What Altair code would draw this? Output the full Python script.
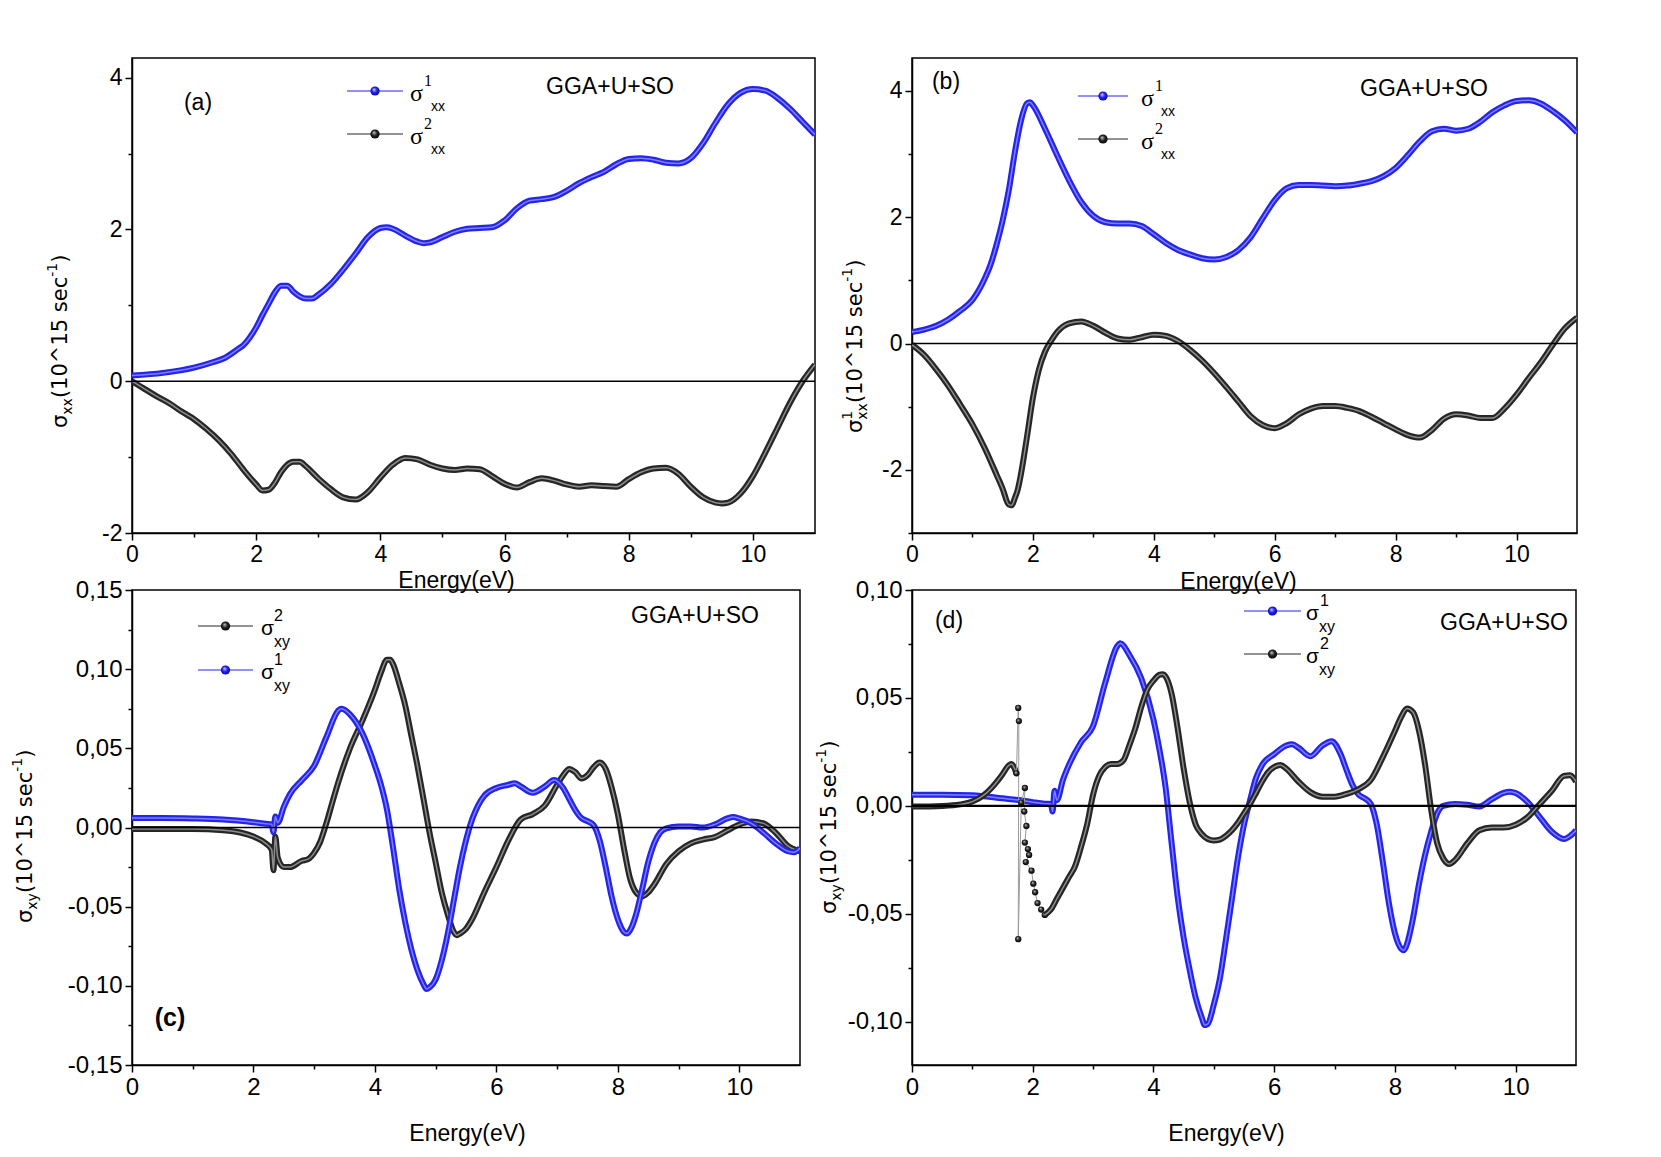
import altair as alt
import pandas as pd

# ---------------- panel (a): sigma_xx, GGA+U+SO ----------------
a_E1 = [0, 0.5, 1.0, 1.3, 1.5, 1.7, 1.8, 1.9, 2.0, 2.1, 2.2, 2.3, 2.4, 2.5, 2.6, 2.7, 2.8, 2.9, 3.0, 3.2,
        3.4, 3.6, 3.8, 4.0, 4.1, 4.2, 4.4, 4.6, 4.7, 4.8, 5.0, 5.2, 5.4, 5.6, 5.8, 6.0, 6.2, 6.4, 6.6, 6.8,
        7.0, 7.2, 7.4, 7.6, 7.8, 8.0, 8.2, 8.4, 8.6, 8.8, 9.0, 9.2, 9.4, 9.6, 9.8, 10.0, 10.2, 10.4, 10.6, 10.8, 11.0]
a_s1 = [0.075, 0.11, 0.18, 0.25, 0.31, 0.42, 0.48, 0.58, 0.71, 0.87, 1.02, 1.17, 1.26, 1.26, 1.18, 1.12, 1.09, 1.09, 1.14, 1.28,
        1.47, 1.68, 1.90, 2.02, 2.03, 2.01, 1.92, 1.84, 1.82, 1.83, 1.90, 1.97, 2.01, 2.02, 2.03, 2.12, 2.28, 2.38, 2.40, 2.43,
        2.51, 2.61, 2.69, 2.76, 2.86, 2.93, 2.94, 2.92, 2.88, 2.87, 2.94, 3.14, 3.41, 3.65, 3.80, 3.85, 3.83, 3.73, 3.59, 3.42, 3.25]
a_E2 = [0, 0.2, 0.4, 0.6, 0.8, 1.0, 1.2, 1.4, 1.6, 1.8, 2.0, 2.1, 2.2, 2.3, 2.4, 2.5, 2.6, 2.7, 2.8, 3.0,
        3.2, 3.4, 3.6, 3.8, 4.0, 4.2, 4.4, 4.6, 4.8, 5.0, 5.2, 5.4, 5.6, 5.8, 6.0, 6.2, 6.4, 6.6, 6.8, 7.0,
        7.2, 7.4, 7.6, 7.8, 8.0, 8.2, 8.4, 8.6, 8.8, 9.0, 9.2, 9.4, 9.5, 9.6, 9.8, 10.0, 10.2, 10.4, 10.6, 10.8, 11.0]
a_s2 = [0.0, -0.10, -0.20, -0.29, -0.40, -0.50, -0.63, -0.78, -0.96, -1.17, -1.36, -1.44, -1.43, -1.34, -1.20, -1.10, -1.06, -1.06, -1.12, -1.28,
        -1.42, -1.53, -1.56, -1.46, -1.27, -1.10, -1.01, -1.03, -1.10, -1.15, -1.17, -1.15, -1.16, -1.25, -1.35, -1.40, -1.33, -1.28, -1.31, -1.36,
        -1.39, -1.37, -1.38, -1.39, -1.29, -1.20, -1.15, -1.14, -1.22, -1.39, -1.53, -1.60, -1.61, -1.60, -1.48, -1.25, -0.94, -0.61, -0.28, 0.0, 0.22]

# ---------------- panel (b) ----------------
b_E1 = [0, 0.2, 0.4, 0.6, 0.8, 1.0, 1.2, 1.3, 1.4, 1.5, 1.6, 1.7, 1.8, 1.9, 1.95, 2.0, 2.2, 2.4, 2.6, 2.8,
        3.0, 3.2, 3.4, 3.6, 3.8, 4.0, 4.2, 4.4, 4.6, 4.8, 5.0, 5.2, 5.4, 5.6, 5.8, 6.0, 6.2, 6.4, 6.6, 6.8,
        7.0, 7.2, 7.4, 7.6, 7.8, 8.0, 8.2, 8.4, 8.6, 8.8, 9.0, 9.2, 9.4, 9.6, 9.8, 10.0, 10.2, 10.4, 10.6, 10.8, 11.0]
b_s1 = [0.18, 0.22, 0.28, 0.38, 0.52, 0.69, 1.02, 1.25, 1.57, 1.95, 2.42, 3.02, 3.52, 3.80, 3.82, 3.77, 3.40, 2.98, 2.58, 2.24,
        2.02, 1.92, 1.90, 1.90, 1.86, 1.73, 1.59, 1.48, 1.41, 1.35, 1.33, 1.37, 1.48, 1.68, 1.98, 2.27, 2.46, 2.51, 2.51, 2.50,
        2.49, 2.50, 2.53, 2.57, 2.65, 2.78, 2.98, 3.20, 3.36, 3.40, 3.37, 3.40, 3.51, 3.66, 3.77, 3.84, 3.85, 3.80, 3.68, 3.53, 3.34]
b_E2 = [0, 0.2, 0.4, 0.6, 0.8, 1.0, 1.2, 1.4, 1.5, 1.6, 1.65, 1.7, 1.75, 1.8, 1.9, 2.0, 2.1, 2.2, 2.3, 2.4,
        2.6, 2.8, 3.0, 3.2, 3.4, 3.6, 3.8, 4.0, 4.2, 4.4, 4.6, 4.8, 5.0, 5.2, 5.4, 5.6, 5.8, 6.0, 6.2, 6.4,
        6.6, 6.8, 7.0, 7.2, 7.4, 7.6, 7.8, 8.0, 8.2, 8.4, 8.6, 8.8, 9.0, 9.2, 9.4, 9.6, 9.8, 10.0, 10.2, 10.4,
        10.6, 10.8, 11.0]
b_s2 = [-0.02, -0.18, -0.41, -0.67, -0.97, -1.28, -1.65, -2.08, -2.30, -2.55, -2.56, -2.45, -2.31, -2.08, -1.49, -0.86, -0.41, -0.13, 0.04, 0.18,
        0.32, 0.35, 0.28, 0.17, 0.08, 0.06, 0.10, 0.14, 0.12, 0.04, -0.10, -0.27, -0.47, -0.69, -0.92, -1.15, -1.29, -1.34, -1.26, -1.12,
        -1.03, -0.99, -0.99, -1.02, -1.07, -1.16, -1.26, -1.36, -1.45, -1.49, -1.37, -1.19, -1.12, -1.14, -1.18, -1.18, -1.03, -0.81, -0.55, -0.30,
        -0.02, 0.24, 0.41]

# ---------------- panel (c): sigma_xy ----------------
c_E1 = [0, 0.5, 1.0, 1.5, 2.0, 2.2, 2.3, 2.33, 2.36, 2.4, 2.5, 2.6, 2.8, 3.0, 3.2, 3.4, 3.45, 3.6, 3.8, 4.0,
        4.1, 4.2, 4.3, 4.4, 4.5, 4.6, 4.7, 4.8, 4.85, 4.9, 5.0, 5.1, 5.2, 5.3, 5.4, 5.5, 5.6, 5.7, 5.8, 6.0,
        6.2, 6.3, 6.4, 6.6, 6.8, 6.95, 7.1, 7.2, 7.3, 7.4, 7.5, 7.6, 7.7, 7.8, 7.9, 8.0, 8.1, 8.15, 8.2, 8.3,
        8.4, 8.5, 8.6, 8.7, 8.8, 9.0, 9.2, 9.4, 9.6, 9.8, 9.9, 10.0, 10.2, 10.4, 10.6, 10.8, 10.9, 11.0]
c_s1 = [0.006, 0.006, 0.0057, 0.005, 0.0033, 0.0024, 0.002, -0.003, 0.007, 0.003, 0.013, 0.021, 0.030, 0.039, 0.057, 0.074, 0.075, 0.071, 0.059, 0.039,
        0.027, 0.011, -0.013, -0.039, -0.060, -0.077, -0.090, -0.099, -0.102, -0.101, -0.096, -0.084, -0.067, -0.046, -0.025, -0.008, 0.005, 0.014, 0.020, 0.025,
        0.027, 0.028, 0.026, 0.022, 0.026, 0.030, 0.025, 0.018, 0.011, 0.006, 0.004, 0.0015, -0.008, -0.025, -0.044, -0.058, -0.066, -0.067, -0.065, -0.055,
        -0.039, -0.022, -0.010, -0.003, -0.0005, 0.0007, 0.0007, 0.0, 0.002, 0.0057, 0.0066, 0.0057, 0.0026, -0.0033, -0.010, -0.015, -0.0156, -0.013]
c_E2 = [0, 1.0, 1.5, 1.8, 2.0, 2.2, 2.3, 2.33, 2.36, 2.4, 2.5, 2.6, 2.8, 2.9, 3.0, 3.1, 3.2, 3.3, 3.4, 3.6,
        3.8, 4.0, 4.1, 4.2, 4.25, 4.3, 4.4, 4.5, 4.6, 4.7, 4.8, 4.9, 5.0, 5.1, 5.2, 5.3, 5.35, 5.4, 5.5, 5.6,
        5.8, 6.0, 6.2, 6.4, 6.6, 6.8, 7.0, 7.1, 7.2, 7.3, 7.4, 7.5, 7.6, 7.7, 7.8, 7.9, 8.0, 8.1, 8.2, 8.3,
        8.4, 8.5, 8.6, 8.8, 9.0, 9.2, 9.4, 9.6, 9.8, 10.0, 10.2, 10.4, 10.6, 10.8, 11.0]
c_s2 = [-0.001, -0.001, -0.0017, -0.0033, -0.0057, -0.010, -0.014, -0.027, -0.0057, -0.019, -0.025, -0.025, -0.021, -0.020, -0.016, -0.009, 0.0026, 0.016, 0.029, 0.051,
        0.068, 0.087, 0.098, 0.106, 0.106, 0.103, 0.091, 0.077, 0.058, 0.039, 0.018, -0.0033, -0.022, -0.041, -0.055, -0.066, -0.068, -0.067, -0.064, -0.058,
        -0.041, -0.025, -0.008, 0.005, 0.0085, 0.014, 0.027, 0.033, 0.037, 0.035, 0.031, 0.033, 0.038, 0.041, 0.037, 0.025, 0.0085, -0.013, -0.032, -0.041,
        -0.0435, -0.041, -0.036, -0.023, -0.015, -0.010, -0.0076, -0.006, -0.002, 0.0019, 0.0038, 0.0026, -0.0033, -0.0116, -0.015]

# ---------------- panel (d) ----------------
d_E1 = [0, 0.5, 1.0, 1.5, 1.8, 2.0, 2.2, 2.3, 2.33, 2.36, 2.4, 2.5, 2.6, 2.8, 3.0, 3.2, 3.4, 3.45, 3.6, 3.8,
        4.0, 4.1, 4.2, 4.3, 4.4, 4.5, 4.6, 4.7, 4.8, 4.85, 4.9, 5.0, 5.1, 5.2, 5.3, 5.4, 5.5, 5.6, 5.7, 5.8,
        6.0, 6.2, 6.3, 6.4, 6.6, 6.8, 6.95, 7.1, 7.2, 7.3, 7.4, 7.5, 7.6, 7.7, 7.8, 7.9, 8.0, 8.1, 8.15, 8.2,
        8.3, 8.4, 8.5, 8.6, 8.7, 8.8, 9.0, 9.2, 9.4, 9.6, 9.8, 9.9, 10.0, 10.2, 10.4, 10.6, 10.8, 10.9, 11.0]
d_s1 = [0.0052, 0.0052, 0.0049, 0.0035, 0.0026, 0.0017, 0.001, 0.0009, -0.0026, 0.007, 0.0026, 0.012, 0.019, 0.0295, 0.037, 0.057, 0.074, 0.0753, 0.070, 0.059,
        0.040, 0.026, 0.0087, -0.017, -0.042, -0.061, -0.076, -0.089, -0.098, -0.1015, -0.101, -0.092, -0.080, -0.062, -0.043, -0.024, -0.0087, 0.0026, 0.013, 0.019,
        0.024, 0.028, 0.0286, 0.027, 0.023, 0.028, 0.030, 0.024, 0.0165, 0.0095, 0.0052, 0.0035, 0.0009, -0.0087, -0.026, -0.045, -0.059, -0.066, -0.0668, -0.064,
        -0.052, -0.036, -0.0226, -0.012, -0.0035, 0.0, 0.0009, 0.0005, -0.0003, 0.003, 0.006, 0.0066, 0.006, 0.0017, -0.0052, -0.012, -0.0153, -0.014, -0.0113]
# black sigma2_xy in (d): smooth start, scattered jump near 1.8 eV, smooth rest
d_E2a = [0, 0.5, 0.8, 1.0, 1.2, 1.4, 1.5, 1.6, 1.65, 1.7, 1.73]
d_s2a = [-0.0003, 0.0, 0.0007, 0.002, 0.0052, 0.011, 0.0147, 0.0187, 0.0194, 0.0173, 0.0151]
d_E2b = [1.73, 1.76, 1.77, 1.76, 1.81, 1.87, 1.86, 1.895, 1.87, 1.92, 1.94, 1.885, 1.98, 2.01, 2.04, 2.08, 2.14, 2.2]
d_s2b = [0.0151, 0.0454, 0.0393, -0.0617, 0.0015, 0.0083, -0.0026, -0.0093, -0.017, -0.020, -0.0227, -0.026, -0.030, -0.036, -0.040, -0.045, -0.048, -0.0505]
d_E2c = [2.2, 2.3, 2.4, 2.5, 2.6, 2.7, 2.8, 2.9, 3.0, 3.1, 3.2, 3.3, 3.4, 3.5, 3.6, 3.7, 3.8, 3.9, 4.0, 4.1,
         4.15, 4.2, 4.3, 4.4, 4.5, 4.6, 4.7, 4.8, 4.9, 5.0, 5.1, 5.2, 5.3, 5.4, 5.5, 5.6, 5.7, 5.8, 5.9, 6.0,
         6.1, 6.2, 6.4, 6.6, 6.8, 7.0, 7.2, 7.4, 7.6, 7.8, 8.0, 8.1, 8.2, 8.3, 8.4, 8.5, 8.6, 8.7, 8.8, 8.9,
         9.0, 9.2, 9.4, 9.6, 9.8, 10.0, 10.2, 10.4, 10.6, 10.8, 10.9, 11.0]
d_s2c = [-0.0505, -0.048, -0.043, -0.038, -0.033, -0.028, -0.019, -0.0087, 0.0052, 0.0139, 0.018, 0.0194, 0.0194, 0.021, 0.028, 0.036, 0.046, 0.054, 0.058, 0.0607,
         0.061, 0.060, 0.052, 0.036, 0.0173, 0.0017, -0.0087, -0.013, -0.0153, -0.016, -0.0156, -0.0139, -0.0113, -0.0078, -0.0035, 0.0009, 0.006, 0.0113, 0.0156, 0.018,
         0.019, 0.0173, 0.0113, 0.0064, 0.0043, 0.0043, 0.0056, 0.0078, 0.012, 0.0226, 0.0347, 0.041, 0.0451, 0.0434, 0.0347, 0.019, -0.0017, -0.0173, -0.0243, -0.0269,
         -0.025, -0.0173, -0.0113, -0.010, -0.010, -0.0087, -0.0052, 0.0009, 0.007, 0.0139, 0.0142, 0.0113]

# axis tick positions (major + minor)
x_ticks = list(range(0, 11))
ab_ticks_a = [-2, -1, 0, 1, 2, 3, 4]
ab_ticks_b = [-3, -2, -1, 0, 1, 2, 3, 4]
c_ticks = [round(-0.15 + 0.025 * i, 3) for i in range(13)]
d_ticks = [round(-0.10 + 0.025 * i, 3) for i in range(9)]

# ---------------- styling ----------------
SANS = "Liberation Sans, Arial, Helvetica, sans-serif"
SERIF = "Liberation Serif, Times New Roman, Times, serif"
TFONT = "DejaVu Sans, Verdana, sans-serif"

BLUE, BLUE_CORE, BLUE_LIGHT, BLUE_DARK = "#2424ea", "#9090ff", "#d0d0ff", "#0000a8"
BLK, BLK_CORE, BLK_LIGHT, BLK_DARK = "#262626", "#a0a0a0", "#d0d0d0", "#000000"

ONE = alt.Data(values=[{"k": 0}])

EM = {"σ": 0.634, "x": 0.592, "y": 0.592, "(": 0.390, ")": 0.390, "0": 0.636, "1": 0.636,
      "5": 0.636, "^": 0.838, " ": 0.318, "s": 0.521, "e": 0.615, "c": 0.550, "-": 0.361}


def tw(s, size):
    return sum(EM.get(ch, 0.6) for ch in s) * size


def ball(light, base, dark):
    return alt.RadialGradient(
        gradient="radial",
        stops=[alt.GradientStop(color=light, offset=0.0),
               alt.GradientStop(color=base, offset=0.5),
               alt.GradientStop(color=dark, offset=1.0)],
        x1=0.38, y1=0.32, r1=0.0, x2=0.5, y2=0.5, r2=0.55)


def text_at(t, x, y, size, font=SANS, weight="normal", angle=0, align="left", baseline="middle"):
    return alt.Chart(ONE).mark_text(
        text=t, font=font, fontSize=size, fontWeight=weight, angle=angle,
        align=align, baseline=baseline, color="black").encode(x=alt.value(x), y=alt.value(y))


def ytitle(x0, y0, sub, sup=None, size=21, small=14):
    out = []
    y = y0
    rot = dict(angle=270, baseline="alphabetic", font=TFONT)
    out.append(text_at("σ", x0, y, size, **rot))
    y -= tw("σ", size)
    adv = tw(sub, small)
    if sup:
        out.append(text_at(sup, x0 - 10, y, small, **rot))
        adv = max(adv, tw(sup, small))
    out.append(text_at(sub, x0 + 5, y, small, **rot))
    y -= adv
    out.append(text_at("(10^15 sec", x0, y, size, **rot))
    y -= tw("(10^15 sec", size)
    out.append(text_at("-1", x0 - 10, y, small, **rot))
    y -= tw("-1", small)
    out.append(text_at(")", x0, y, size, **rot))
    return out


def legend_item(lx, ll, y0, color, light, dark, sx, sup, sup_dx, sub, sub_dx,
                sfont, ssize, supfont, supsize, subsize):
    return [
        alt.Chart(ONE).mark_rule(color=color, strokeWidth=1.2).encode(
            x=alt.value(lx), x2=alt.value(lx + ll), y=alt.value(y0)),
        alt.Chart(ONE).mark_circle(size=85, opacity=1, color=ball(light, color, dark)).encode(
            x=alt.value(lx + ll / 2), y=alt.value(y0)),
        text_at("σ", sx, y0 + 3, ssize, sfont),
        text_at(sup, sx + sup_dx, y0 - 10, supsize, supfont),
        text_at(sub, sx + sub_dx, y0 + 16, subsize, SANS),
    ]


def encodings(ydom, yvals, ytest, ylabexpr, tickfs, title_x, title_y):
    X = alt.X("E:Q", scale=alt.Scale(domain=[0, 11], nice=False, zero=False),
              axis=alt.Axis(values=x_ticks,
                            tickSize={"condition": {"test": "datum.value % 2 == 0", "value": 7}, "value": 4},
                            labelExpr="datum.value % 2 == 0 ? datum.label : ''",
                            labelFont=SANS, labelFontSize=tickfs, labelColor="black", labelPadding=3,
                            labelOverlap=False, labelFlush=False,
                            title="Energy(eV)", titleFont=SANS, titleFontSize=23, titleFontWeight="normal",
                            titleColor="black", titleX=title_x, titleY=title_y, titleAlign="center",
                            titleBaseline="middle",
                            domainColor="black", domainWidth=1.5, tickColor="black", tickWidth=1.5, grid=False))
    Y = alt.Y("v:Q", scale=alt.Scale(domain=ydom, nice=False, zero=False),
              axis=alt.Axis(values=yvals,
                            tickSize={"condition": {"test": ytest, "value": 7}, "value": 4},
                            labelExpr=ylabexpr, labelFont=SANS, labelFontSize=tickfs, labelColor="black",
                            labelPadding=3, labelOverlap=False, labelFlush=False, title=None,
                            domainColor="black", domainWidth=1.5, tickColor="black", tickWidth=1.5, grid=False))
    return X, Y


def curve(E, V, color, core, X, Y):
    df = pd.DataFrame({"E": E, "v": V})
    base = alt.Chart(df)
    return [base.mark_line(color=color, strokeWidth=6, interpolate="monotone", clip=True).encode(x=X, y=Y),
            base.mark_line(color=core, strokeWidth=1.5, opacity=0.85, interpolate="monotone", clip=True).encode(x=X, y=Y)]


def zero_line(Y, width=1.5):
    return alt.Chart(alt.Data(values=[{"v": 0}])).mark_rule(color="black", strokeWidth=width).encode(y=Y)


INT_TEST = "datum.value % 2 == 0"
INT_LAB = "datum.value % 2 == 0 ? (datum.value < 0 ? '-' + format(abs(datum.value), 'd') : format(datum.value, 'd')) : ''"
DEC_TEST = "abs(round(datum.value * 40)) % 2 == 0"
DEC_LAB = ("abs(round(datum.value * 40)) % 2 == 0 ? (datum.value < -0.0001 ? '-' : '') + "
           "replace(format(abs(datum.value), '.2f'), '.', ',') : ''")

# ---------- (a) ----------
Wa, Ha = 683, 475
Xa, Ya = encodings([-2, 4.26], ab_ticks_a, INT_TEST, INT_LAB, 23, 324, 47)
la = []
la += curve(a_E1, a_s1, BLUE, BLUE_CORE, Xa, Ya)
la += curve(a_E2, a_s2, BLK, BLK_CORE, Xa, Ya)
la.append(zero_line(Ya))
la.append(text_at("(a)", 66, 45, 23, align="center"))
la.append(text_at("GGA+U+SO", 478, 29, 23, align="center"))
la += legend_item(215, 56, 33, BLUE, BLUE_LIGHT, BLUE_DARK, 278, "1", 14, "xx", 21, SERIF, 24, SERIF, 16, 14)
la += legend_item(215, 56, 76, BLK, BLK_LIGHT, BLK_DARK, 278, "2", 14, "xx", 21, SERIF, 24, SERIF, 16, 14)
la += ytitle(-65, 370, "xx")
pa = alt.layer(*la).properties(width=Wa, height=Ha)

# ---------- (b) ----------
Wb, Hb = 665, 475
Xb, Yb = encodings([-3, 4.52], ab_ticks_b, INT_TEST, INT_LAB, 23, 326, 48)
lb = []
lb += curve(b_E1, b_s1, BLUE, BLUE_CORE, Xb, Yb)
lb += curve(b_E2, b_s2, BLK, BLK_CORE, Xb, Yb)
lb.append(zero_line(Yb))
lb.append(text_at("(b)", 34, 24, 23, align="center"))
lb.append(text_at("GGA+U+SO", 512, 31, 23, align="center"))
lb += legend_item(166, 50, 38, BLUE, BLUE_LIGHT, BLUE_DARK, 229, "1", 14, "xx", 20, SERIF, 24, SERIF, 16, 14)
lb += legend_item(166, 50, 81, BLK, BLK_LIGHT, BLK_DARK, 229, "2", 14, "xx", 20, SERIF, 24, SERIF, 16, 14)
lb += ytitle(-50, 375, "xx", sup="1")
pb = alt.layer(*lb).properties(width=Wb, height=Hb)

# ---------- (c) ----------
Wc, Hc = 668, 475
Xc, Yc = encodings([-0.15, 0.15], c_ticks, DEC_TEST, DEC_LAB, 24, 335, 68)
lc = []
lc += curve(c_E2, c_s2, BLK, BLK_CORE, Xc, Yc)
lc += curve(c_E1, c_s1, BLUE, BLUE_CORE, Xc, Yc)
lc.append(zero_line(Yc))
lc.append(text_at("(c)", 38, 428, 25, weight="bold", align="center"))
lc.append(text_at("GGA+U+SO", 563, 26, 23, align="center"))
lc += legend_item(66, 55, 36, BLK, BLK_LIGHT, BLK_DARK, 129, "2", 13, "xy", 13, SANS, 21, SANS, 16, 16)
lc += legend_item(66, 55, 80, BLUE, BLUE_LIGHT, BLUE_DARK, 129, "1", 13, "xy", 13, SANS, 21, SANS, 16, 16)
lc += ytitle(-100, 333, "xy")
pc = alt.layer(*lc).properties(width=Wc, height=Hc)

# ---------- (d) ----------
Wd, Hd = 664, 475
Xd, Yd = encodings([-0.12, 0.10], d_ticks, DEC_TEST, DEC_LAB, 24, 314, 68)
ld = []
ld += curve(d_E1, d_s1, BLUE, BLUE_CORE, Xd, Yd)
ld += curve(d_E2a, d_s2a, BLK, BLK_CORE, Xd, Yd)
spike = pd.DataFrame({"E": d_E2b, "v": d_s2b, "i": list(range(len(d_E2b)))})
ld.append(alt.Chart(spike).mark_line(color="#9a9a9a", strokeWidth=1, clip=True).encode(
    x=Xd, y=Yd, order=alt.Order("i:Q")))
ld.append(alt.Chart(spike).mark_circle(size=40, opacity=1, color=ball(BLK_LIGHT, BLK, BLK_DARK), clip=True).encode(
    x=Xd, y=Yd))
ld += curve(d_E2c, d_s2c, BLK, BLK_CORE, Xd, Yd)
ld.append(zero_line(Yd, 2.2))
ld.append(text_at("(d)", 37, 31, 23, align="center"))
ld.append(text_at("GGA+U+SO", 592, 33, 23, align="center"))
ld += legend_item(332, 57, 21, BLUE, BLUE_LIGHT, BLUE_DARK, 394, "1", 14, "xy", 13, SANS, 21, SANS, 16, 16)
ld += legend_item(332, 57, 64, BLK, BLK_LIGHT, BLK_DARK, 394, "2", 14, "xy", 13, SANS, 21, SANS, 16, 16)
ld += ytitle(-76, 324, "xy")
pd_ = alt.layer(*ld).properties(width=Wd, height=Hd)

chart = alt.concat(pa, pb, pc, pd_, columns=2, spacing={"row": 57, "column": 97}, bounds="flush").properties(
    padding={"left": 2, "top": 49, "right": 10, "bottom": 10}
).configure_view(stroke="black", strokeWidth=1.5)

chart.save("out.html", embed_options={"renderer": "svg", "actions": False})
